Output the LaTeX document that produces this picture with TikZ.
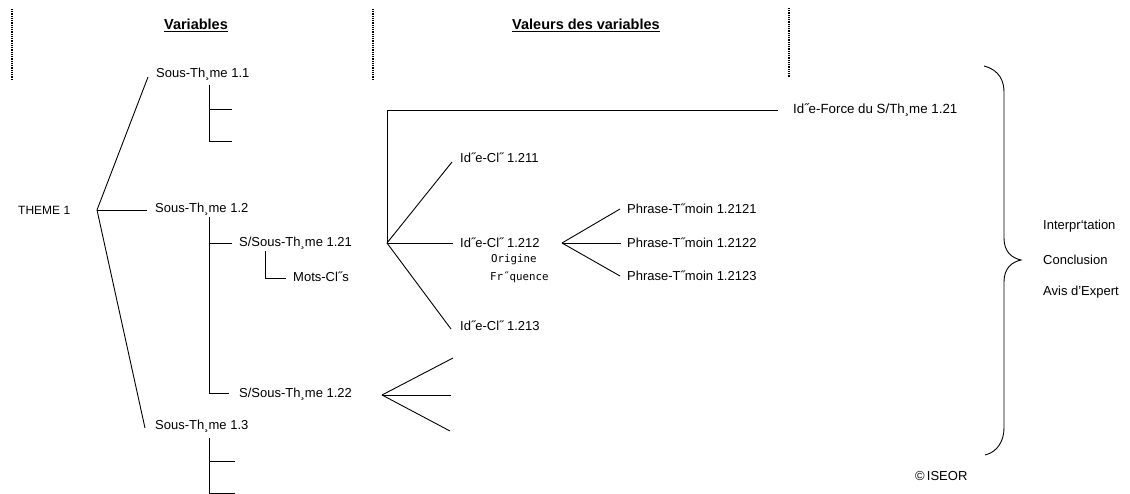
\documentclass[tikz,border=0pt]{standalone}
\usepackage{fontspec}
\setmainfont{Liberation Sans}
\newfontfamily\monofont{DejaVu Sans Mono}
\begin{document}
\begin{tikzpicture}[x=1pt,y=-1pt,
  every node/.style={font=\fontsize{13}{15}\selectfont, inner sep=0pt, anchor=west},
  small/.style={font=\monofont\fontsize{10.8}{12}\selectfont},
  head/.style={anchor=center, font=\bfseries\fontsize{14.5}{16}\selectfont},
  ln/.style={line width=0.9pt},
  dots/.style={line width=2.2pt, dash pattern=on 1pt off 0.8pt}]
\useasboundingbox (0,0) rectangle (1130,494);

% dotted separators
\coordinate (d1a) at (12,9);   \coordinate (d1b) at (12,80);
\coordinate (d2a) at (373,9);  \coordinate (d2b) at (373,80);
\coordinate (d3a) at (789,8);  \coordinate (d3b) at (789,78);
\draw[dots] (d1a) -- (d1b);
\draw[dots] (d2a) -- (d2b);
\draw[dots] (d3a) -- (d3b);

% headers
\node[head] (hvar) at (196,25) {\underline{Variables}};
\node[head] (hval) at (586,25) {\underline{Valeurs des variables}};

% nodes
\node[font=\fontsize{12}{14}\selectfont] (theme) at (18,210) {THEME 1};
\node (st11) at (156,74) {Sous-Th¸me 1.1};
\node (st12) at (155,209) {Sous-Th¸me 1.2};
\node (st13) at (155,426) {Sous-Th¸me 1.3};
\node (sst121) at (239,243) {S/Sous-Th¸me 1.21};
\node (mc) at (293,277) {Mots-Cl˝s};
\node (sst122) at (239,394) {S/Sous-Th¸me 1.22};
\node[font=\fontsize{13.3}{15}\selectfont] (ifo) at (793,110) {Id˝e-Force du S/Th¸me 1.21};
\node (ic1) at (460,158) {Id˝e-Cl˝ 1.211};
\node (ic2) at (460,243) {Id˝e-Cl˝ 1.212};
\node (ic3) at (460,326) {Id˝e-Cl˝ 1.213};
\node[small] (orig) at (491,260) {Origine};
\node[small] (freq) at (490,277) {Fr˝quence};
\node (ph1) at (627,209) {Phrase-T˝moin 1.2121};
\node (ph2) at (627,243) {Phrase-T˝moin 1.2122};
\node (ph3) at (627,276) {Phrase-T˝moin 1.2123};
\node (interp) at (1043,226) {Interpr\symbol{"60}tation};
\node (concl) at (1043,260) {Conclusion};
\node (avis) at (1043,292) {Avis d'Expert};
\node (iseor) at (915,476) {\textcopyright\,ISEOR};

% junctions and free ends
\coordinate (j0) at (97,210);
\coordinate (e11) at (148,77);
\coordinate (e12) at (147,210);
\coordinate (e13) at (145,428);
\draw[ln] (e11) -- (j0) -- (e13);
\draw[ln] (j0) -- (e12);

% under Sous-Theme 1.1
\coordinate (a1) at (209,85);  \coordinate (a2) at (209,141);
\coordinate (a3) at (232,141); \coordinate (a4) at (209,109); \coordinate (a5) at (232,109);
\draw[ln] (a1) -- (a2) -- (a3);
\draw[ln] (a4) -- (a5);

% under Sous-Theme 1.2
\coordinate (b1) at (209,217); \coordinate (b2) at (209,393);
\coordinate (b3) at (229,393); \coordinate (b4) at (209,243); \coordinate (b5) at (232,243);
\draw[ln] (b1) -- (b2) -- (b3);
\draw[ln] (b4) -- (b5);

% under S/Sous-Theme 1.21
\coordinate (c1) at (265,251); \coordinate (c2) at (265,278); \coordinate (c3) at (286,278);
\draw[ln] (c1) -- (c2) -- (c3);

% under Sous-Theme 1.3
\coordinate (f1) at (209,438); \coordinate (f2) at (209,493);
\coordinate (f3) at (235,493); \coordinate (f4) at (209,461); \coordinate (f5) at (235,461);
\draw[ln] (f1) -- (f2) -- (f3);
\draw[ln] (f4) -- (f5);

% fan from S/Sous-Theme 1.22
\coordinate (g0) at (382,395);
\coordinate (g1) at (453,358); \coordinate (g2) at (451,395); \coordinate (g3) at (450,431);
\draw[ln] (g0) -- (g1);
\draw[ln] (g0) -- (g2);
\draw[ln] (g0) -- (g3);

% from S/Sous-Theme 1.21 to ideas
\coordinate (h0) at (387,243);
\coordinate (h1) at (387,110); \coordinate (h2) at (778,110);
\coordinate (h3) at (452,162); \coordinate (h4) at (453,243); \coordinate (h5) at (451,329);
\draw[ln] (h0) -- (h1) -- (h2);
\draw[ln] (h0) -- (h3);
\draw[ln] (h0) -- (h4);
\draw[ln] (h0) -- (h5);

% fan from Idee-Cle 1.212
\coordinate (k0) at (562,243);
\coordinate (k1) at (620,209); \coordinate (k2) at (621,243); \coordinate (k3) at (620,276);
\draw[ln] (k0) -- (k1);
\draw[ln] (k0) -- (k2);
\draw[ln] (k0) -- (k3);

% brace
\coordinate (br1) at (984,66);
\coordinate (br2) at (1004,92);
\coordinate (br3) at (1004,238);
\coordinate (brt) at (1021,260);
\coordinate (br4) at (1004,282);
\coordinate (br5) at (1004,428);
\coordinate (br6) at (985,455);
\draw[ln] (br1) .. controls (1000,70) and (1004,82) .. (br2)
  -- (br3) .. controls (1004,252) and (1012,258) .. (brt)
  .. controls (1012,262) and (1004,268) .. (br4)
  -- (br5) .. controls (1004,440) and (998,452) .. (br6);
\end{tikzpicture}
\end{document}
